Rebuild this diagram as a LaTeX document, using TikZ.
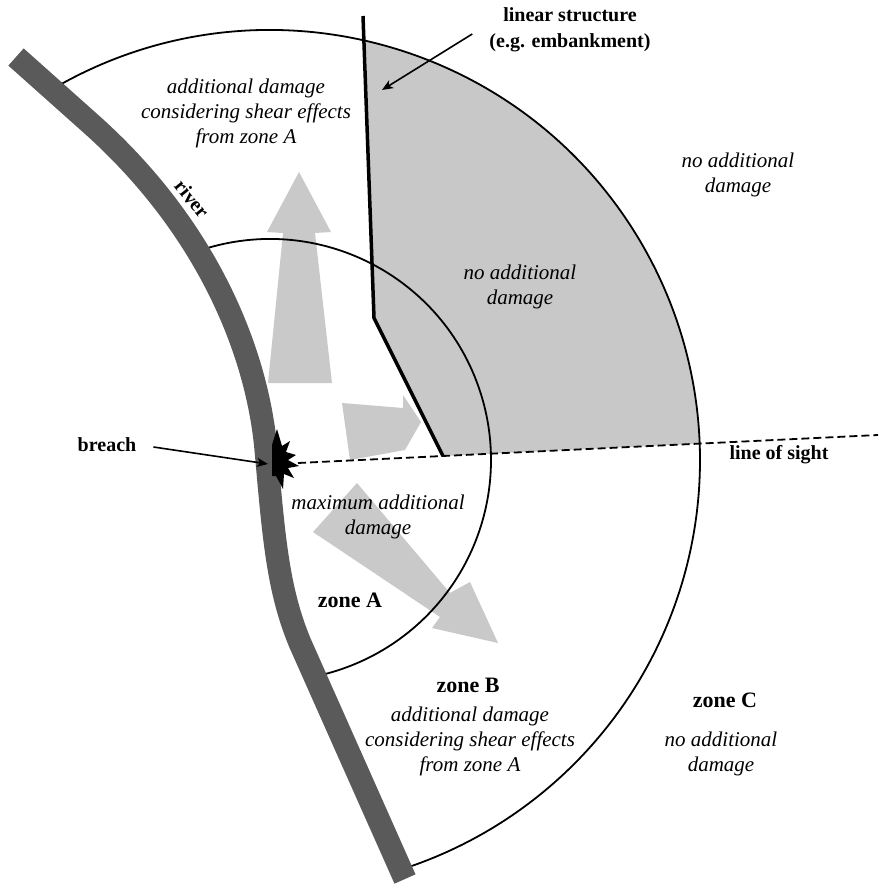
\documentclass[tikz,border=0pt]{standalone}
\usepackage{fontspec}
\setmainfont{Liberation Serif}
\usetikzlibrary{arrows.meta}
\definecolor{rivergrey}{HTML}{5A5A5A}
\definecolor{zonegrey}{HTML}{C8C8C8}
\definecolor{flowgrey}{HTML}{C9C9C9}
\begin{document}
\begin{tikzpicture}[x=1pt,y=1pt,
  zoneline/.style={line width=1.8pt},
  flowarrow/.style={fill=flowgrey, draw=none},
  itl/.style={font=\fontsize{21}{25}\selectfont\itshape, align=center, inner sep=0pt},
  bld/.style={font=\fontsize{20}{26}\selectfont\bfseries, align=center, inner sep=0pt},
  zonelbl/.style={font=\fontsize{22}{26}\selectfont\bfseries, inner sep=0pt},
  pointer/.style={line width=1.6pt, -{Stealth[length=11pt,width=9pt,inset=3pt]}}
]
\useasboundingbox (0,0) rectangle (878,-888);
\coordinate (C) at (270,-460);
% shaded region behind the embankment
\fill[zonegrey] (443,-456) -- (699.5,-443.6) arc[start angle=2.2,end angle=77.1,radius=430] -- (374,-318) -- cycle;
% flow arrows
\fill[flowarrow] (268,-383) -- (283,-233) -- (267,-232) -- (299,-172) -- (331,-232) -- (315,-233) -- (332,-383) -- cycle;
\fill[flowarrow] (342,-403) -- (403,-408) -- (403,-395) -- (421,-422) -- (405,-450) -- (350,-460) -- cycle;
\fill[flowarrow] (357,-483) -- (450,-593) -- (470,-582) -- (498,-643) -- (432,-628) -- (440,-617) -- (313,-532) -- cycle;
% zone boundaries
\draw[zoneline] (C) ++(108:221) arc[start angle=108,end angle=-79,radius=221];
\draw[zoneline] (C) ++(121:430) arc[start angle=121,end angle=-73,radius=430];
% line of sight
\coordinate (los0) at (298,-463);
\coordinate (los1) at (878,-435);
\draw[line width=1.8pt, dash pattern=on 8pt off 4pt] (los0) -- (los1);
% embankment
\draw[line width=3.5pt] (363,-16) -- (374,-318) -- (443,-456);
% river
\draw[rivergrey, line width=23pt, line join=round]
  (16,-57) -- (90,-123)
  .. controls (206,-226) and (257,-350) .. (266,-450)
  .. controls (274,-540) and (278,-590) .. (300,-643)
  -- (405,-879);
% breach
\fill (272,-445) -- (277,-429) -- (282,-446) -- (290,-441) -- (286,-452) -- (296,-455) -- (288,-460) -- (299,-466) -- (288,-468) -- (294,-478) -- (284,-474) -- (283,-489) -- (276,-476) -- (272,-476) -- cycle;
\coordinate (breachpt) at (268,-464);
% labels
\node[bld] (breachlbl) at (107,-445) {breach};
\draw[pointer] ([xshift=17pt,yshift=-2pt]breachlbl.east) -- (breachpt);
\node[bld] (lslbl) at (570,-30) {linear structure\\(e.g. embankment)};
\coordinate (lspt) at (382,-90);
\draw[pointer] ([xshift=-17pt,yshift=-4pt]lslbl.west) -- (lspt);
\node[bld, rotate=-51] (riverlbl) at (192,-199) {river};
\node[bld] (loslbl) at (779,-455) {line of sight};
\node[itl] (topblk) at (246,-113) {additional damage\\considering shear effects\\from zone A};
\node[itl] (rtblk) at (738,-175) {no additional\\damage};
\node[itl] (greyblk) at (520,-287) {no additional\\damage};
\node[itl] (maxblk) at (378,-517) {maximum additional\\damage};
\node[zonelbl] (zA) at (350,-600) {zone A};
\node[zonelbl] (zB) at (468,-685) {zone B};
\node[itl] (zBblk) at (470,-741) {additional damage\\considering shear effects\\from zone A};
\node[zonelbl] (zC) at (725,-700) {zone C};
\node[itl] (zCblk) at (721,-754) {no additional\\damage};
\end{tikzpicture}
\end{document}
